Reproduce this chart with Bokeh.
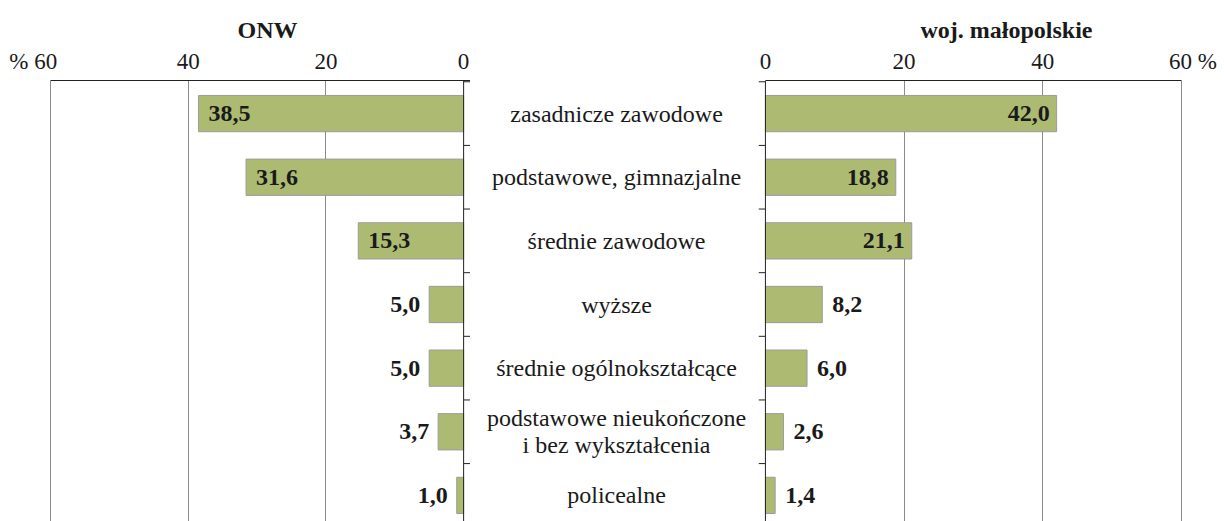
from bokeh.plotting import figure
from bokeh.layouts import row
from bokeh.models import Range1d, FixedTicker, LinearAxis, Span, Grid, ColumnDataSource, Title
from bokeh.core.properties import value
from bokeh.embed import file_html
from bokeh.resources import INLINE

# ---------------- data ----------------
categories = [
    "zasadnicze zawodowe",
    "podstawowe, gimnazjalne",
    "średnie zawodowe",
    "wyższe",
    "średnie ogólnokształcące",
    "podstawowe nieukończone\ni bez wykształcenia",
    "policealne",
]
onw = [38.5, 31.6, 15.3, 5.0, 5.0, 3.7, 1.0]
malopolskie = [42.0, 18.8, 21.1, 8.2, 6.0, 2.6, 1.4]
axis_ticks = [0, 20, 40, 60]
grid_ticks = [20, 40, 60]
left_tick_labels = {0: "0", 20: "20", 40: "40", 60: "% 60" + "\u00a0" * 6}
right_tick_labels = {0: "0", 20: "20", 40: "40", 60: "\u00a0" * 4 + "60 %"}
left_title = "ONW"
right_title = "woj. małopolskie"

# ---------------- style ----------------
SERIF = "Liberation Serif"
BAR_FILL = "#adbb72"
BAR_LINE = "#9b9b9b"
GRID = "#8a8a8a"
TXT = "#1a1a1a"
H = 521
TOP = 80
n = len(categories)
idx = list(range(n))
yr = Range1d(start=n - 0.5 - 0.09, end=-0.52)
bounds_y = [i + 0.5 for i in range(-1, n)]


def fmt(v):
    return f"{v:.1f}".replace(".", ",")


def make(width, xr, mbl, mbr, title=None, title_offset=0):
    p = figure(width=width, height=H, x_range=xr, y_range=yr,
               output_backend="svg", toolbar_location=None,
               x_axis_location=None, y_axis_location=None,
               min_border_top=TOP, min_border_bottom=0,
               min_border_left=mbl, min_border_right=mbr,
               outline_line_color=None, background_fill_color="white",
               border_fill_color="white")
    p.center = []
    if title is not None:
        p.title = Title(text=title, align="left", offset=title_offset,
                        text_font=SERIF, text_font_style="bold",
                        text_font_size="24px", text_color=TXT, standoff=6)
    return p


def add_top_axis(p, bounds, overrides):
    ax = LinearAxis(ticker=FixedTicker(ticks=axis_ticks), bounds=bounds)
    ax.major_label_overrides = overrides
    ax.major_tick_out = 0
    ax.major_tick_in = 0
    ax.minor_tick_out = 0
    ax.minor_tick_in = 0
    ax.axis_line_color = "#222222"
    ax.axis_line_width = 1
    ax.major_label_standoff = 7
    ax.major_label_text_font = SERIF
    ax.major_label_text_font_size = "23px"
    ax.major_label_text_color = TXT
    p.add_layout(ax, "above")
    g = Grid(dimension=0, ticker=FixedTicker(ticks=grid_ticks),
             grid_line_color=GRID, grid_line_width=1)
    p.add_layout(g)


def add_values(p, vals, side):
    big = [(i, v) for i, v in zip(idx, vals) if v > 10]
    small = [(i, v) for i, v in zip(idx, vals) if v <= 10]
    if side == "left":
        specs = [(big, "left", 10), (small, "right", -9)]
    else:
        specs = [(big, "right", -7), (small, "left", 10)]
    for items, align, off in specs:
        src = ColumnDataSource(dict(y=[i for i, _ in items], x=[v for _, v in items],
                                    t=[fmt(v) for _, v in items]))
        p.text(x="x", y="y", text="t", source=src, text_align=align,
               text_baseline="middle", x_offset=off,
               text_font=value(SERIF), text_font_style="bold",
               text_font_size="24px", text_color=TXT)


def add_ticks(p):
    src = ColumnDataSource(dict(y=bounds_y, x0=[0] * len(bounds_y), x1=[-1] * len(bounds_y)))
    p.segment(x0="x0", x1="x1", y0="y", y1="y", source=src, line_color="#222222", line_width=1)
    p.add_layout(Span(location=0, dimension="height", line_color="#222222", line_width=1))


# ---------------- left panel (ONW) ----------------
p1 = make(470, Range1d(60.15, -1), 49, 0, left_title, 188)
add_top_axis(p1, (-1, 60), left_tick_labels)
p1.hbar(y=idx, left=0, right=onw, height=0.57, fill_color=BAR_FILL, line_color=BAR_LINE, line_width=1)
add_ticks(p1)
add_values(p1, onw, "left")

# ---------------- middle (categories) ----------------
pm = make(288, Range1d(0, 1), 0, 0)
pm.text(x=[0.507] * n, y=idx, text=categories, text_align="center", text_baseline="middle",
        text_font=value(SERIF), text_font_size="24px", text_color=TXT, text_line_height=1.05)

# ---------------- right panel (woj. małopolskie) ----------------
p2 = make(464, Range1d(-1, 60.15), 0, 40, right_title, 162)
add_top_axis(p2, (0, 60), right_tick_labels)
p2.hbar(y=idx, left=0, right=malopolskie, height=0.57, fill_color=BAR_FILL, line_color=BAR_LINE, line_width=1)
add_ticks(p2)
add_values(p2, malopolskie, "right")

layout = row(p1, pm, p2, spacing=0)
open("out.html", "w").write(file_html(layout, INLINE))
